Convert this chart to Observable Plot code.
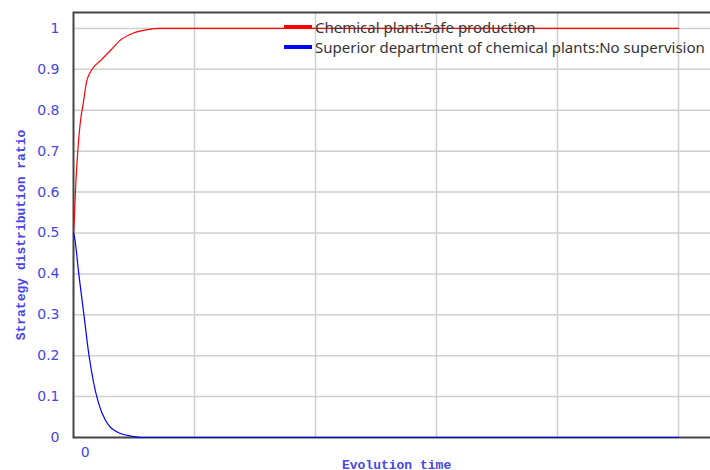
<!DOCTYPE html>
<html>
<head>
<meta charset="utf-8">
<script src="https://cdn.jsdelivr.net/npm/d3@7"></script>
<script src="https://cdn.jsdelivr.net/npm/@observablehq/plot@0.6"></script>
<style>
  html, body { margin: 0; padding: 0; background: #fff; overflow: hidden; }
  #wrap { position: relative; width: 710px; height: 470px; overflow: hidden; }
  #chart svg { max-width: none !important; width: 800px; height: 470px; display: block; }
  #legend { position: absolute; left: 284px; top: 17px; font-family: "Noto Sans", sans-serif; font-size: 15px; color: #333; line-height: 20px; white-space: nowrap; }
  .item { display: flex; align-items: center; }
  .sw { width: 28px; height: 3.5px; margin-right: 3px; }
</style>
</head>
<body>
<div id="wrap">
  <div id="chart"></div>
  <div id="legend"></div>
</div>
<script>
// Evolution time values (time units) and strategy ratios
const timeRed  = [0, 0.17, 0.33, 0.71, 1.16, 1.6, 2.15, 2.6, 3.1, 4.5, 6.1, 7.8, 9.9, 12.2, 14.4, 20, 40, 60, 80, 100];
const safeProduction = [0.5, 0.543, 0.604, 0.70, 0.775, 0.816, 0.869, 0.888, 0.901, 0.922, 0.946, 0.972, 0.989, 0.997, 1.0, 1.0, 1.0, 1.0, 1.0, 1.0];
const timeBlue = [0, 0.17, 0.87, 1.7, 2.52, 3.35, 4.17, 5.28, 6.1, 6.93, 8.1, 9.7, 11, 20, 40, 60, 80, 100];
const noSupervision = [0.5, 0.49, 0.40, 0.303, 0.205, 0.132, 0.083, 0.042, 0.025, 0.016, 0.008, 0.003, 0, 0, 0, 0, 0, 0];

const seriesNames = ["Chemical plant:Safe production", "Superior department of chemical plants:No supervision"];
const seriesColors = ["#ff0000", "#0000ff"];
const yTicks = [0, 0.1, 0.2, 0.3, 0.4, 0.5, 0.6, 0.7, 0.8, 0.9, 1];
const xGrid = [20, 40, 60, 80, 100];
const xLabelPos = [1.2, 105];
const xLabelText = ["0", "100"];

const red = timeRed.map((t, i) => ({t, v: safeProduction[i]}));
const blue = timeBlue.map((t, i) => ({t, v: noSupervision[i]}));
const xLabels = xLabelPos.map((t, i) => ({t, label: xLabelText[i]}));

const tickColor = "#4646e6";

const chart = Plot.plot({
  width: 800,
  height: 470,
  marginLeft: 73,
  marginRight: 1,
  marginTop: 12,
  marginBottom: 33,
  x: {domain: [0, 120], axis: null},
  y: {domain: [0, 1.039], axis: null},
  style: {fontFamily: "DejaVu Sans, sans-serif", background: "#fff", maxWidth: "none"},
  marks: [
    Plot.ruleY(yTicks.filter(d => d > 0), {stroke: "#cfcfcf", strokeWidth: 1.5}),
    Plot.ruleX(xGrid, {stroke: "#cfcfcf", strokeWidth: 1.5}),
    Plot.frame({stroke: "#444", strokeWidth: 2}),
    Plot.text(yTicks, {x: 0, y: d => d, text: d => String(d), textAnchor: "end", dx: -14, fill: tickColor, fontSize: 14}),
    Plot.text(xLabels, {x: "t", y: 0, text: "label", textAnchor: "start", dy: 15, fill: tickColor, fontSize: 14}),
    Plot.line(red, {x: "t", y: "v", stroke: seriesColors[0], strokeWidth: 1.2, curve: "monotone-x"}),
    Plot.line(blue, {x: "t", y: "v", stroke: seriesColors[1], strokeWidth: 1.2, curve: "monotone-x"}),
    Plot.text(["Evolution time"], {x: 53.4, y: 0, text: d => d, dy: 27, fill: tickColor, fontSize: 13, fontWeight: "bold", fontFamily: "Liberation Mono, monospace"}),
    Plot.text(["Strategy distribution ratio"], {x: 0, y: 0.495, text: d => d, dx: -53, rotate: -90, fill: tickColor, fontSize: 13, fontWeight: "bold", fontFamily: "Liberation Mono, monospace"})
  ]
});
document.getElementById("chart").appendChild(chart);

const legend = document.getElementById("legend");
seriesNames.forEach((name, i) => {
  const row = document.createElement("div");
  row.className = "item";
  const sw = document.createElement("span");
  sw.className = "sw";
  sw.style.background = seriesColors[i];
  const tx = document.createElement("span");
  tx.textContent = name;
  row.appendChild(sw);
  row.appendChild(tx);
  legend.appendChild(row);
});
</script>
</body>
</html>
